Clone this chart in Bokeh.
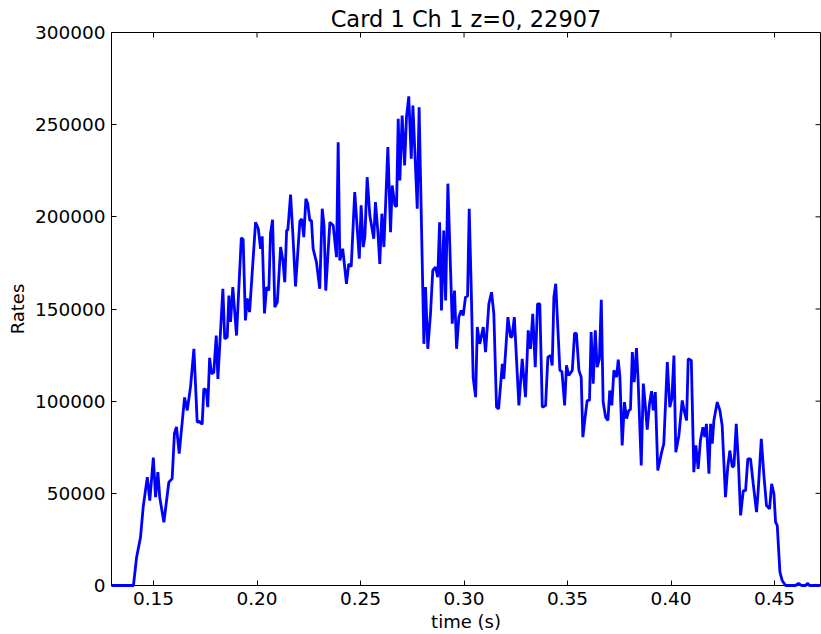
import math

from bokeh.plotting import figure
from bokeh.models import Range1d, FixedTicker, NumeralTickFormatter
from bokeh.embed import file_html
from bokeh.resources import INLINE

# Count rate of card 1, channel 1 versus time
time_s = [
    0.1297, 0.1403, 0.1418, 0.1437, 0.1450, 0.1470, 0.1482, 0.1499, 0.1510, 0.1521,
    0.1530, 0.1550, 0.1574, 0.1590, 0.1601, 0.1611, 0.1624, 0.1650, 0.1663, 0.1679,
    0.1695, 0.1711, 0.1722, 0.1735, 0.1743, 0.1755, 0.1762, 0.1771, 0.1780, 0.1791,
    0.1803, 0.1811, 0.1835, 0.1844, 0.1856, 0.1864, 0.1872, 0.1883, 0.1901, 0.1924,
    0.1933, 0.1944, 0.1953, 0.1964, 0.1993, 0.2006, 0.2017, 0.2025, 0.2036, 0.2046,
    0.2057, 0.2065, 0.2075, 0.2086, 0.2098, 0.2114, 0.2125, 0.2134, 0.2143, 0.2149,
    0.2162, 0.2173, 0.2186, 0.2207, 0.2216, 0.2226, 0.2236, 0.2245, 0.2255, 0.2263,
    0.2271, 0.2287, 0.2303, 0.2315, 0.2324, 0.2332, 0.2352, 0.2368, 0.2384, 0.2392,
    0.2400, 0.2414, 0.2432, 0.2443, 0.2455, 0.2472, 0.2494, 0.2503, 0.2513, 0.2521,
    0.2532, 0.2545, 0.2564, 0.2572, 0.2584, 0.2593, 0.2603, 0.2613, 0.2632, 0.2645,
    0.2653, 0.2666, 0.2674, 0.2682, 0.2690, 0.2701, 0.2713, 0.2722, 0.2733, 0.2745,
    0.2753, 0.2774, 0.2783, 0.2806, 0.2814, 0.2825, 0.2838, 0.2849, 0.2862, 0.2873,
    0.2882, 0.2891, 0.2902, 0.2911, 0.2922, 0.2935, 0.2943, 0.2954, 0.2964, 0.2975,
    0.2986, 0.2996, 0.3007, 0.3017, 0.3025, 0.3035, 0.3044, 0.3056, 0.3064, 0.3076,
    0.3093, 0.3104, 0.3120, 0.3133, 0.3144, 0.3157, 0.3167, 0.3185, 0.3192, 0.3212,
    0.3225, 0.3232, 0.3243, 0.3265, 0.3281, 0.3297, 0.3310, 0.3321, 0.3332, 0.3344,
    0.3355, 0.3366, 0.3378, 0.3394, 0.3405, 0.3418, 0.3426, 0.3434, 0.3443, 0.3463,
    0.3473, 0.3486, 0.3495, 0.3506, 0.3523, 0.3534, 0.3543, 0.3555, 0.3566, 0.3574,
    0.3587, 0.3595, 0.3606, 0.3614, 0.3624, 0.3634, 0.3643, 0.3654, 0.3663, 0.3672,
    0.3684, 0.3695, 0.3704, 0.3714, 0.3724, 0.3737, 0.3745, 0.3753, 0.3764, 0.3775,
    0.3785, 0.3796, 0.3804, 0.3813, 0.3822, 0.3833, 0.3841, 0.3856, 0.3866, 0.3875,
    0.3885, 0.3896, 0.3906, 0.3914, 0.3924, 0.3936, 0.3953, 0.3965, 0.3982, 0.3994,
    0.4004, 0.4014, 0.4023, 0.4038, 0.4054, 0.4065, 0.4075, 0.4083, 0.4098, 0.4110,
    0.4120, 0.4131, 0.4142, 0.4154, 0.4163, 0.4171, 0.4183, 0.4191, 0.4199, 0.4207,
    0.4223, 0.4236, 0.4247, 0.4263, 0.4274, 0.4284, 0.4296, 0.4304, 0.4315, 0.4325,
    0.4336, 0.4349, 0.4360, 0.4371, 0.4384, 0.4397, 0.4413, 0.4421, 0.4436, 0.4448,
    0.4461, 0.4476, 0.4486, 0.4497, 0.4505, 0.4513, 0.4526, 0.4537, 0.4553, 0.4601,
    0.4616, 0.4630, 0.4650, 0.4659, 0.4669, 0.4722,
]

rates = [
    0, 0, 15200, 26000, 42500, 58800, 46000, 69400, 47900, 61500,
    47900, 34300, 56000, 58000, 82500, 86000, 71600, 102000, 95000, 108000,
    128400, 88600, 89000, 87400, 106700, 106000, 96700, 123500, 114900, 115500,
    135600, 112100, 161000, 133900, 134700, 157300, 143000, 161900, 135600, 188600,
    187700, 143800, 155700, 148300, 197100, 193700, 182700, 189400, 147600, 161900,
    160000, 190800, 198400, 151000, 153700, 183600, 176300, 164600, 192600, 193000,
    212100, 190800, 162200, 197700, 198900, 189000, 209800, 207100, 198000, 198000,
    182700, 175400, 161000, 204400, 195000, 160000, 197100, 195300, 178100, 240500,
    176300, 182700, 163700, 174500, 173000, 213400, 177300, 206200, 183600, 189000,
    221500, 200700, 188100, 208000, 191700, 174500, 201700, 183600, 237800, 191700,
    217000, 206200, 205500, 253200, 219700, 255000, 227900, 254100, 265400, 231500,
    260400, 204400, 259500, 131100, 161900, 128400, 147400, 170900, 172700, 167300,
    197100, 149200, 192600, 154600, 218000, 170900, 142000, 160000, 128400, 145600,
    149200, 146500, 156400, 157000, 204400, 160000, 113000, 102200, 140200, 131100,
    140200, 126600, 152800, 159100, 147400, 96700, 95800, 120300, 112100, 145600,
    134700, 135000, 145600, 97700, 123000, 102200, 138400, 128400, 147400, 118400,
    152800, 152800, 96700, 97700, 123900, 124800, 119400, 156400, 163700, 116700,
    116000, 97700, 119400, 113900, 116700, 136900, 136600, 116700, 113000, 80500,
    93200, 100400, 100400, 137500, 109500, 138400, 118400, 123000, 155000, 99500,
    91300, 89500, 105800, 97700, 116700, 113000, 122500, 113000, 76000, 99500,
    90500, 95000, 95500, 126600, 110300, 128800, 111200, 65100, 109500, 98600,
    84500, 98600, 105400, 95000, 104900, 62400, 71500, 76900, 121200, 96700,
    101300, 124800, 72300, 81400, 100400, 94000, 89500, 123000, 122100, 61500,
    76000, 63300, 78700, 85900, 80500, 87700, 60600, 87700, 76900, 89500,
    99500, 95000, 86800, 47900, 64200, 73200, 64200, 65000, 87700, 67800,
    38000, 51500, 51500, 68700, 68700, 55200, 39800, 51500, 79600, 60600,
    43400, 41600, 55200, 49800, 34300, 32600, 7200, 2700, 0, 0,
    1200, 0, 0, 1200, 0, 0,
]

x_ticks = [0.15, 0.20, 0.25, 0.30, 0.35, 0.40, 0.45]
y_ticks = [0, 50000, 100000, 150000, 200000, 250000, 300000]

X_MIN, X_MAX = 0.1297, 0.4722
Y_MIN, Y_MAX = 0, 300000

FONT = "DejaVu Sans"

p = figure(
    width=821, height=634,
    output_backend="svg", toolbar_location=None,
    x_range=Range1d(X_MIN, X_MAX), y_range=Range1d(Y_MIN, Y_MAX),
    title="Card 1 Ch 1 z=0, 22907",
    min_border_left=111, min_border_right=1,
    min_border_top=32, min_border_bottom=49,
    x_axis_label="time (s)", y_axis_label="Rates",
)

p.background_fill_color = "white"
p.border_fill_color = "white"
p.outline_line_color = "black"
p.outline_line_width = 1
p.grid.visible = False

p.title.align = "center"
p.title.text_font = FONT
p.title.text_font_size = "22.5px"
p.title.text_font_style = "normal"
p.title.text_color = "black"
p.title.offset = 0
p.title.standoff = 2

p.line(time_s, rates, line_color="#0000ff", line_width=2.8, level="overlay")

for ax, ticks in ((p.xaxis[0], x_ticks), (p.yaxis[0], y_ticks)):
    ax.ticker = FixedTicker(ticks=ticks)
    ax.axis_line_color = "black"
    ax.axis_line_width = 1
    ax.major_tick_in = 5
    ax.major_tick_out = 0
    ax.major_tick_line_color = "black"
    ax.minor_tick_line_color = None
    ax.major_label_text_font = FONT
    ax.major_label_text_font_size = "18.5px"
    ax.major_label_text_color = "black"
    ax.major_label_standoff = 6
    ax.axis_label_text_font = FONT
    ax.axis_label_text_font_size = "18px"
    ax.axis_label_text_font_style = "normal"
    ax.axis_label_text_color = "black"

p.xaxis[0].formatter = NumeralTickFormatter(format="0.00")
p.yaxis[0].formatter = NumeralTickFormatter(format="0")
p.xaxis[0].axis_label_standoff = 3
p.yaxis[0].axis_label_standoff = 4

# Mirrored inward ticks along the top and right edges of the frame
p.scatter(x_ticks, [Y_MAX] * len(x_ticks), marker="dash", angle=math.pi / 2,
          size=10, line_color="black", line_width=1)
p.scatter([X_MAX] * len(y_ticks), y_ticks, marker="dash",
          size=10, line_color="black", line_width=1)

open("out.html", "w").write(file_html(p, INLINE))
